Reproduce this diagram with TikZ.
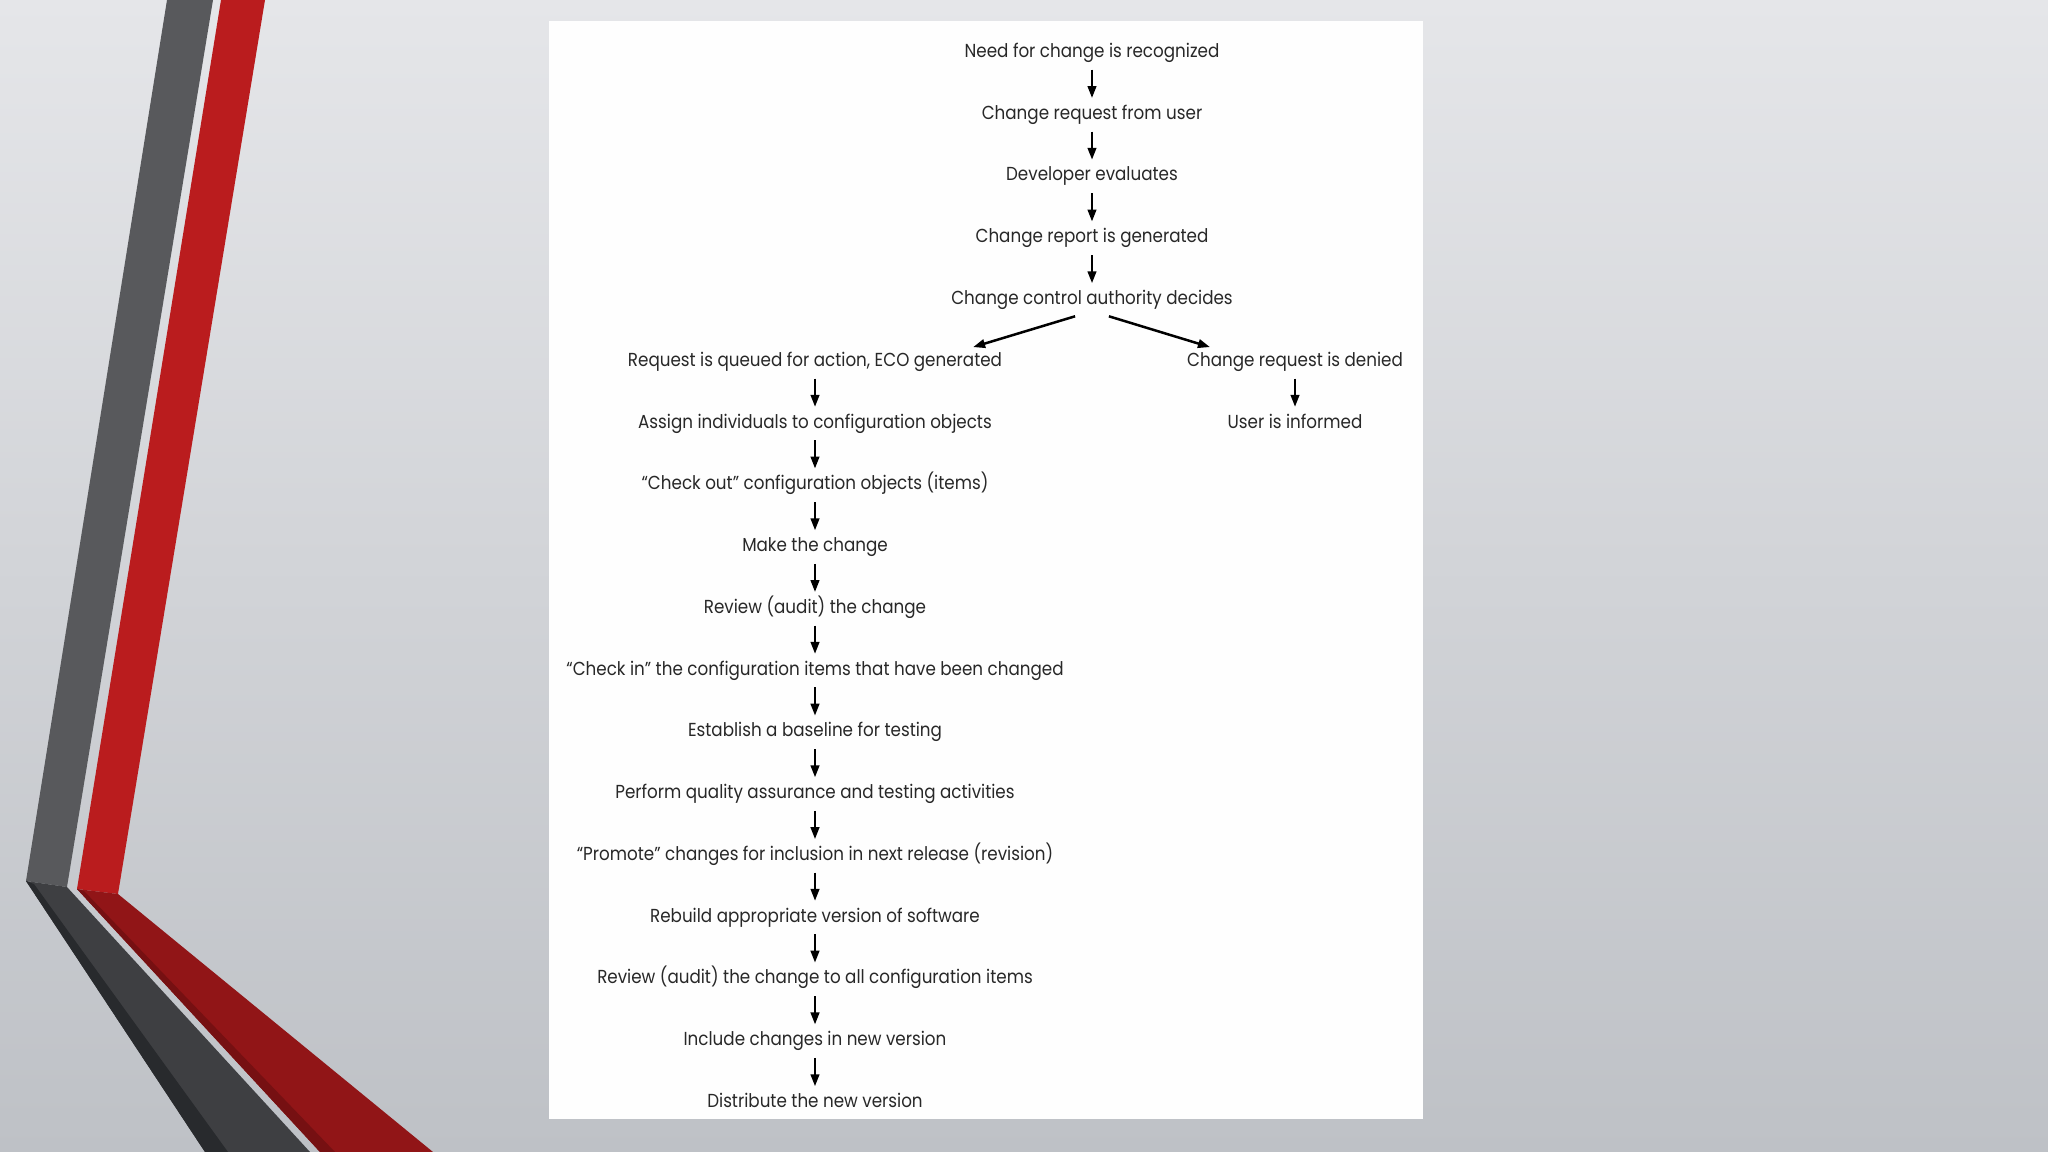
\documentclass[tikz,border=0pt]{standalone}
\usepackage{fontspec}
\setmainfont{Poppins}[FakeStretch=0.89]
\usetikzlibrary{arrows.meta}
\definecolor{bgtop}{RGB}{229,230,233}
\definecolor{bgbot}{RGB}{190,193,198}
\definecolor{greyup}{RGB}{88,89,92}
\definecolor{greylow}{RGB}{62,63,66}
\definecolor{greyedge}{RGB}{40,42,45}
\definecolor{redup}{RGB}{186,28,30}
\definecolor{redlow}{RGB}{145,21,23}
\definecolor{rededge}{RGB}{118,16,18}
\definecolor{txt}{RGB}{40,40,40}
\definecolor{panel}{RGB}{254,254,254}
\begin{document}
\begin{tikzpicture}[x=0.01cm,y=-0.01cm,
  lab/.style={inner sep=0pt, minimum height=0.30cm, text height=0.15cm, text depth=0.04cm,
    font=\fontsize{5.35pt}{6.5pt}\selectfont, text=txt},
  arr/.style={-{Triangle[length=0.12cm,width=0.085cm]}, line width=0.025cm, black, shorten <=0.02cm}]
\useasboundingbox (0,0) rectangle (2048,1152);
\shade[top color=bgtop,bottom color=bgbot] (0,0) rectangle (2048,1152);
% left decoration
\fill[greyup] (167,0) -- (213,0) -- (67,887) -- (26,881) -- cycle;
\fill[redup] (221,0) -- (265,0) -- (118,894) -- (77,889) -- cycle;
\fill[greylow] (26,881) -- (67,887) -- (310,1152) -- (205,1152) -- cycle;
\fill[greyedge] (26,881) -- (34,884) -- (228,1152) -- (205,1152) -- cycle;
\fill[redlow] (77,889) -- (118,894) -- (433,1152) -- (320,1152) -- cycle;
\fill[rededge] (77,889) -- (84,891) -- (335,1152) -- (320,1152) -- cycle;
% panel
\fill[panel] (549,21) rectangle (1423,1119);
% top column
\node[lab] (n0) at (1092,52) {Need for change is recognized};
\node[lab] (n1) at (1092,113.8) {Change request from user};
\node[lab] (n2) at (1092,175.5) {Developer evaluates};
\node[lab] (n3) at (1092,237.3) {Change report is generated};
\node[lab] (n4) at (1092,299) {Change control authority decides};
% left column
\node[lab] (l0) at (815,360.8) {Request is queued for action, ECO generated};
\node[lab] (l1) at (815,422.6) {Assign individuals to configuration objects};
\node[lab] (l2) at (815,484.3) {“Check out” configuration objects (items)};
\node[lab] (l3) at (815,546.1) {Make the change};
\node[lab] (l4) at (815,607.8) {Review (audit) the change};
\node[lab] (l5) at (815,669.6) {“Check in” the configuration items that have been changed};
\node[lab] (l6) at (815,731.4) {Establish a baseline for testing};
\node[lab] (l7) at (815,793.1) {Perform quality assurance and testing activities};
\node[lab] (l8) at (815,854.9) {“Promote” changes for inclusion in next release (revision)};
\node[lab] (l9) at (815,916.6) {Rebuild appropriate version of software};
\node[lab] (l10) at (815,978.4) {Review (audit) the change to all configuration items};
\node[lab] (l11) at (815,1040.2) {Include changes in new version};
\node[lab] (l12) at (815,1102) {Distribute the new version};
% right column
\node[lab] (r0) at (1295,360.8) {Change request is denied};
\node[lab] (r1) at (1295,422.6) {User is informed};
% arrows
\foreach \a/\b in {n0/n1,n1/n2,n2/n3,n3/n4,l0/l1,l1/l2,l2/l3,l3/l4,l4/l5,l5/l6,l6/l7,l7/l8,l8/l9,l9/l10,l10/l11,l11/l12,r0/r1}
  \draw[arr] (\a.south) -- (\b.north);
\draw[arr] ([xshift=-0.15cm,yshift=-0.01cm]n4.south) -- ([xshift=1.58cm,yshift=-0.02cm]l0.north);
\draw[arr] ([xshift=0.15cm,yshift=-0.01cm]n4.south) -- ([xshift=-0.85cm,yshift=-0.02cm]r0.north);
\end{tikzpicture}
\end{document}
